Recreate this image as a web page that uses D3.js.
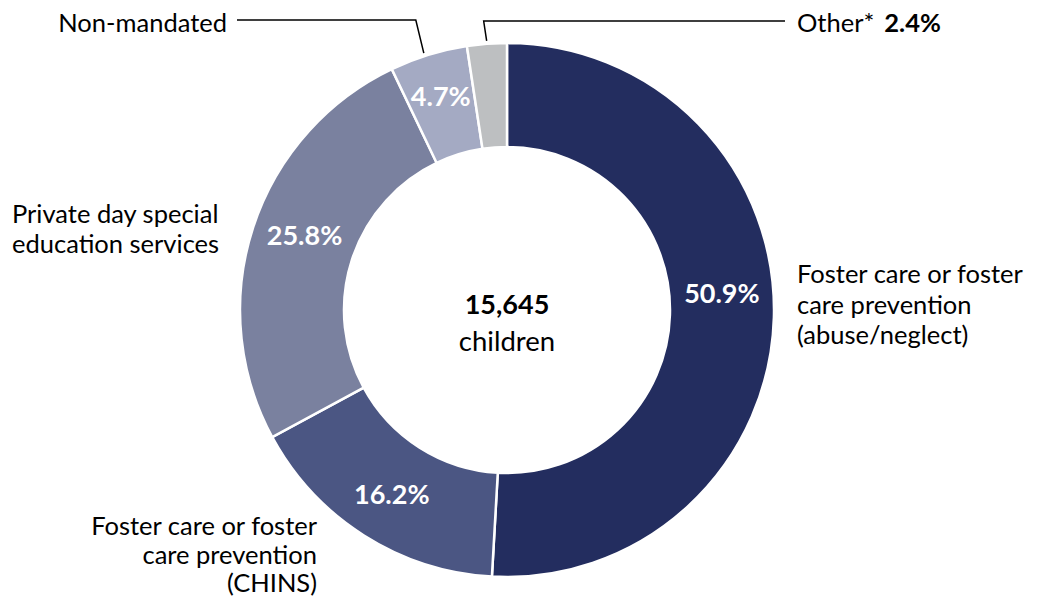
<!DOCTYPE html>
<html>
<head>
<meta charset="utf-8">
<script src="https://cdn.jsdelivr.net/npm/d3@7"></script>
<style>
  body { margin: 0; background: #fff; }
  text { font-family: Lato, "Open Sans", sans-serif; }
</style>
</head>
<body>
<script>
// data
var categories = ["Foster care or foster care prevention (abuse/neglect)", "Foster care or foster care prevention (CHINS)",
    "Private day special education services", "Non-mandated", "Other*"];
var shares = [50.9, 16.2, 25.8, 4.7, 2.4];
var totalChildren = "15,645";
var colors = ["#232d5f", "#4b5683", "#7a819f", "#a4aac3", "#bdbfc1"];

var width = 1043, height = 597;
var cx = 507, cy = 310;
var outerR = 267, innerR = 163;

var svg = d3.select("body").append("svg")
    .attr("width", width)
    .attr("height", height);

var g = svg.append("g")
    .attr("transform", "translate(" + cx + "," + cy + ")");

var pie = d3.pie().sort(null).value(function (d) { return d; });
var arcs = pie(shares);

var arc = d3.arc().innerRadius(innerR).outerRadius(outerR);
var labelArc = d3.arc().innerRadius(215).outerRadius(215);

g.selectAll("path.slice")
    .data(arcs)
    .enter().append("path")
    .attr("class", "slice")
    .attr("d", arc)
    .attr("fill", function (d, i) { return colors[i]; })
    .attr("stroke", "#fff")
    .attr("stroke-width", 2.5);

// percent labels inside the ring (small nudges to match the original)
var nudgeX = [0, 0, 2, -3, 0];
var nudgeY = [-24, 2, -9, -9, 0];
g.selectAll("text.pct")
    .data(arcs)
    .enter().filter(function (d, i) { return i < 4; })
    .append("text")
    .attr("class", "pct")
    .attr("x", function (d, i) { return labelArc.centroid(d)[0] + nudgeX[i]; })
    .attr("y", function (d, i) { return labelArc.centroid(d)[1] + nudgeY[i]; })
    .attr("text-anchor", "middle")
    .attr("dominant-baseline", "central")
    .attr("fill", "#fff")
    .style("font-weight", "bold")
    .style("font-size", "27px")
    .text(function (d) { return d.data.toFixed(1) + "%"; });

// centre text
g.append("text")
    .attr("y", -7)
    .attr("text-anchor", "middle")
    .attr("dominant-baseline", "central")
    .style("font-weight", "bold")
    .style("font-size", "27px")
    .attr("fill", "#000")
    .text(totalChildren);
g.append("text")
    .attr("y", 30)
    .attr("text-anchor", "middle")
    .attr("dominant-baseline", "central")
    .style("font-size", "27.5px")
    .attr("fill", "#000")
    .text("children");

// multi-line outside labels
function multiLabel(x, y, lines, anchor, step) {
    var t = svg.append("text")
        .attr("text-anchor", anchor)
        .style("font-size", "25.5px")
        .attr("fill", "#000");
    lines.forEach(function (l, i) {
        t.append("tspan")
            .attr("x", x)
            .attr("y", y + i * step)
            .attr("dominant-baseline", "central")
            .text(l);
    });
    return t;
}

multiLabel(797, 273, ["Foster care or foster", "care prevention", "(abuse/neglect)"], "start", 30.5);
multiLabel(317, 525, ["Foster care or foster", "care prevention", "(CHINS)"], "end", 28.5);
multiLabel(12, 213, ["Private day special", "education services"], "start", 30);
multiLabel(227, 22, ["Non-mandated"], "end", 0);

// Other* label with bold value
var other = svg.append("text")
    .attr("x", 797)
    .attr("y", 22)
    .attr("dominant-baseline", "central")
    .style("font-size", "25.5px")
    .attr("fill", "#000");
other.append("tspan").text(categories[4]);
other.append("tspan").attr("dx", 10).style("font-weight", "bold").text(shares[4].toFixed(1) + "%");

// leader lines, anchored on the outer edge of the small slices
var line = d3.line();
function edgePoint(a, r) {
    return [cx + r * Math.sin(a), cy - r * Math.cos(a)];
}
var nm = arcs[3], ot = arcs[4];
var pNm = edgePoint(nm.startAngle + (nm.endAngle - nm.startAngle) * 0.45, outerR + 3);
var pOt = edgePoint(ot.startAngle + (ot.endAngle - ot.startAngle) * 0.5, outerR + 3);

svg.append("path")
    .attr("d", line([[237, 20], [pNm[0] - 8, 20], pNm]))
    .attr("fill", "none")
    .attr("stroke", "#000")
    .attr("stroke-width", 1.5);
svg.append("path")
    .attr("d", line([pOt, [pOt[0] - 3, 21], [785, 21]]))
    .attr("fill", "none")
    .attr("stroke", "#000")
    .attr("stroke-width", 1.5);
</script>
</body>
</html>
